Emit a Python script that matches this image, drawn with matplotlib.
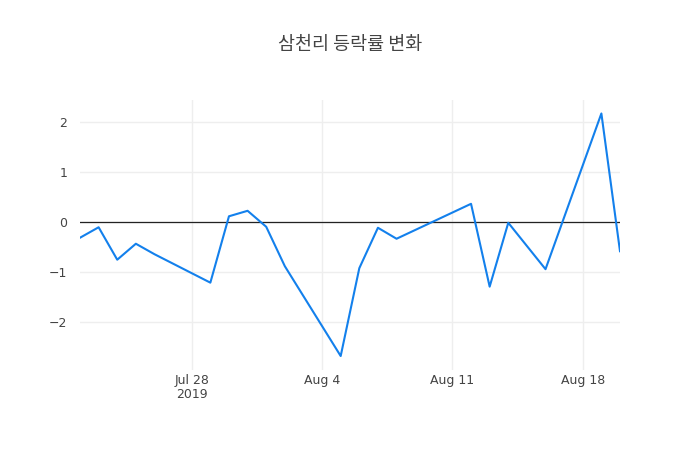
import matplotlib
matplotlib.use('Agg')
import matplotlib.pyplot as plt
import numpy as np
import pandas as pd

# 삼천리 daily change (%)
dates = pd.to_datetime([
    '2019-07-22', '2019-07-23', '2019-07-24', '2019-07-25', '2019-07-26',
    '2019-07-29', '2019-07-30', '2019-07-31', '2019-08-01', '2019-08-02',
    '2019-08-05', '2019-08-06', '2019-08-07', '2019-08-08',
    '2019-08-12', '2019-08-13', '2019-08-14', '2019-08-16',
    '2019-08-19', '2019-08-20',
])
changes = [-0.31, -0.10, -0.75, -0.43, -0.64,
           -1.21, 0.12, 0.23, -0.09, -0.88,
           -2.68, -0.92, -0.11, -0.33,
           0.37, -1.29, -0.01, -0.94,
           2.18, -0.58]

tick_dates = pd.to_datetime(['2019-07-28', '2019-08-04', '2019-08-11', '2019-08-18'])
tick_labels = ['Jul 28\n2019', 'Aug 4', 'Aug 11', 'Aug 18']
y_ticks = [-2, -1, 0, 1, 2]

title = '삼천리 등락률 변화'

line_color = '#1380ec'
text_color = '#444444'
grid_color = '#eeeeee'

fig = plt.figure(figsize=(7, 4.5), dpi=100)
ax = fig.add_axes([80 / 700, 80 / 450, 540 / 700, 270 / 450])

ax.plot(dates, changes, color=line_color, lw=1.5, zorder=3)
ax.axhline(0, color='#222222', lw=0.9, zorder=2)

ax.set_xlim(dates[0], dates[-1])
ax.set_ylim(-2.96, 2.45)

ax.set_xticks(tick_dates)
ax.set_xticklabels(tick_labels, fontsize=9, color=text_color, family='DejaVu Sans',
                   linespacing=1.1)
ax.set_yticks(y_ticks)
ax.set_yticklabels(['\u22122', '\u22121', '0', '1', '2'], fontsize=9, color=text_color,
                   family='DejaVu Sans')
ax.tick_params(length=0, pad=3)
ax.tick_params(axis='y', pad=9)

ax.grid(True, color=grid_color, lw=1, zorder=0)
for spine in ax.spines.values():
    spine.set_visible(False)

fig.text(350 / 700, 1 - 45 / 450, title, ha='center', va='center', fontsize=13.3,
         color=text_color, family=['Noto Sans CJK KR', 'DejaVu Sans'])

fig.savefig('out.png', dpi=100)
